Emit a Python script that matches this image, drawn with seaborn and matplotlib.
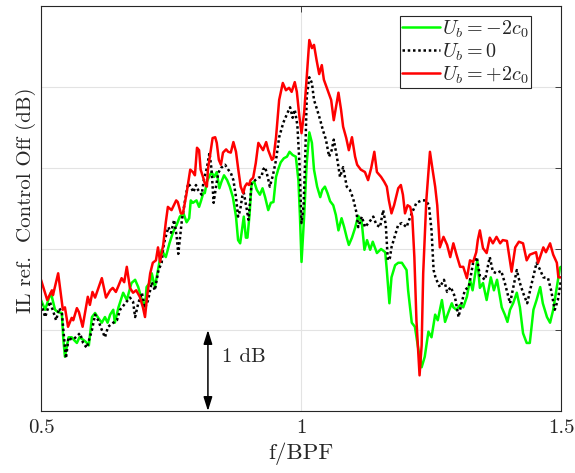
import numpy as np
import pandas as pd
import matplotlib
matplotlib.use("Agg")
import matplotlib.pyplot as plt
import seaborn as sns

# ---------------- data ----------------
f_green = [0.500, 0.508, 0.514, 0.519, 0.527, 0.533, 0.540, 0.543, 0.546, 0.553, 0.559, 0.563, 0.569, 0.574,
           0.581, 0.587, 0.592, 0.598, 0.604, 0.610, 0.617, 0.623, 0.628, 0.633, 0.639, 0.642, 0.649, 0.658,
           0.665, 0.674, 0.681, 0.687, 0.694, 0.700, 0.703, 0.710, 0.713, 0.719, 0.726, 0.732, 0.737, 0.740,
           0.747, 0.754, 0.761, 0.767, 0.774, 0.780, 0.785, 0.788, 0.792, 0.799, 0.804, 0.808, 0.812, 0.815,
           0.819, 0.823, 0.828, 0.833, 0.838, 0.843, 0.847, 0.852, 0.858, 0.863, 0.869, 0.875, 0.879, 0.883,
           0.888, 0.890, 0.894, 0.897, 0.901, 0.905, 0.910, 0.915, 0.921, 0.926, 0.931, 0.937, 0.942, 0.947,
           0.952, 0.956, 0.961, 0.967, 0.973, 0.978, 0.984, 0.990, 0.995, 0.998, 1.001, 1.006, 1.011, 1.016,
           1.021, 1.025, 1.031, 1.037, 1.041, 1.046, 1.051, 1.056, 1.062, 1.067, 1.072, 1.078, 1.083, 1.088,
           1.092, 1.098, 1.104, 1.110, 1.117, 1.122, 1.127, 1.133, 1.138, 1.146, 1.154, 1.162, 1.165, 1.170,
           1.174, 1.181, 1.187, 1.194, 1.203, 1.206, 1.213, 1.219, 1.226, 1.232, 1.238, 1.245, 1.251, 1.258,
           1.263, 1.271, 1.277, 1.283, 1.290, 1.293, 1.299, 1.306, 1.312, 1.319, 1.325, 1.330, 1.335, 1.339,
           1.344, 1.350, 1.357, 1.365, 1.371, 1.377, 1.386, 1.392, 1.397, 1.402, 1.408, 1.415, 1.421, 1.427,
           1.434, 1.440, 1.447, 1.453, 1.460, 1.465, 1.473, 1.479, 1.485, 1.492, 1.498, 1.500]
db_green = [1.37, 1.25, 1.37, 1.46, 1.25, 1.22, 1.21, 0.88, 0.67, 0.91, 0.91, 0.88, 0.84, 0.91,
            0.88, 0.85, 0.81, 1.16, 1.21, 1.15, 1.09, 1.16, 1.09, 1.19, 1.25, 1.09, 1.28, 1.46,
            1.37, 1.58, 1.62, 1.53, 1.37, 1.28, 1.53, 1.59, 1.70, 1.53, 1.78, 1.99, 1.93, 1.90,
            2.07, 2.21, 2.30, 2.40, 2.44, 2.33, 2.38, 2.60, 2.57, 2.60, 2.52, 2.60, 2.69, 2.69,
            2.83, 2.89, 2.95, 2.89, 2.95, 2.75, 2.83, 2.91, 2.85, 2.77, 2.64, 2.40, 2.11, 2.07,
            2.30, 2.40, 2.14, 2.14, 2.42, 2.81, 2.83, 2.73, 2.67, 2.75, 2.64, 2.48, 2.57, 2.58,
            2.89, 2.98, 3.07, 3.12, 3.14, 3.20, 3.16, 3.14, 2.85, 2.40, 1.84, 2.40, 3.06, 3.44,
            3.31, 2.98, 2.77, 2.64, 2.73, 2.77, 2.69, 2.59, 2.54, 2.42, 2.23, 2.38, 2.27, 2.14,
            2.05, 2.14, 2.26, 2.41, 2.32, 1.99, 2.11, 1.99, 2.09, 1.95, 2.00, 1.96, 1.74, 1.33,
            1.65, 1.80, 1.83, 1.83, 1.74, 1.49, 1.09, 1.04, 0.75, 0.54, 0.67, 0.98, 0.91, 1.19,
            1.12, 1.37, 1.10, 1.21, 1.33, 1.28, 1.25, 1.31, 1.28, 1.41, 1.62, 1.49, 1.70, 1.86,
            1.52, 1.58, 1.37, 1.65, 1.49, 1.62, 1.28, 1.19, 1.10, 1.25, 1.33, 1.46, 1.28, 0.96,
            0.84, 0.84, 1.25, 1.37, 1.53, 1.33, 1.16, 1.09, 1.25, 1.53, 1.77, 1.78]

f_zero = [0.500, 0.508, 0.514, 0.517, 0.524, 0.529, 0.535, 0.540, 0.543, 0.548, 0.553, 0.559, 0.565, 0.575,
          0.581, 0.588, 0.598, 0.604, 0.610, 0.617, 0.623, 0.629, 0.639, 0.646, 0.652, 0.662, 0.671, 0.677,
          0.681, 0.687, 0.694, 0.700, 0.706, 0.713, 0.719, 0.726, 0.732, 0.735, 0.738, 0.745, 0.750, 0.756,
          0.761, 0.764, 0.771, 0.777, 0.783, 0.788, 0.793, 0.798, 0.802, 0.809, 0.813, 0.819, 0.824, 0.828,
          0.832, 0.837, 0.841, 0.846, 0.854, 0.860, 0.865, 0.870, 0.875, 0.879, 0.883, 0.889, 0.896, 0.899,
          0.905, 0.912, 0.918, 0.924, 0.927, 0.931, 0.936, 0.940, 0.946, 0.952, 0.958, 0.966, 0.974, 0.979,
          0.984, 0.988, 0.993, 0.997, 1.001, 1.005, 1.008, 1.011, 1.016, 1.021, 1.025, 1.031, 1.037, 1.042,
          1.048, 1.054, 1.059, 1.063, 1.069, 1.075, 1.081, 1.088, 1.094, 1.100, 1.107, 1.110, 1.117, 1.123,
          1.131, 1.139, 1.145, 1.152, 1.158, 1.163, 1.167, 1.171, 1.174, 1.181, 1.187, 1.194, 1.203, 1.208,
          1.213, 1.222, 1.232, 1.240, 1.246, 1.251, 1.255, 1.259, 1.267, 1.275, 1.281, 1.288, 1.296, 1.303,
          1.308, 1.315, 1.323, 1.331, 1.338, 1.344, 1.354, 1.363, 1.369, 1.376, 1.385, 1.392, 1.402, 1.408,
          1.415, 1.421, 1.427, 1.435, 1.442, 1.453, 1.460, 1.466, 1.475, 1.481, 1.488, 1.494, 1.500]
db_zero = [1.33, 1.16, 1.28, 1.35, 1.22, 1.12, 1.27, 1.22, 1.00, 0.65, 0.91, 0.88, 0.90, 0.96,
           0.84, 0.78, 1.00, 1.19, 1.12, 1.00, 0.91, 1.04, 1.09, 1.12, 1.25, 1.33, 1.40, 1.35,
           1.16, 1.33, 1.46, 1.27, 1.37, 1.59, 1.49, 1.74, 1.83, 2.01, 2.11, 2.27, 2.20, 2.36,
           2.15, 1.94, 2.36, 2.60, 2.81, 2.77, 2.70, 2.79, 2.73, 2.67, 2.85, 3.00, 3.19, 2.98,
           2.57, 2.79, 2.94, 3.00, 3.04, 2.98, 2.94, 2.85, 2.64, 2.40, 2.48, 2.73, 2.48, 2.36,
           2.81, 2.85, 2.88, 2.89, 2.98, 3.01, 2.89, 2.77, 2.91, 3.10, 3.38, 3.56, 3.68, 3.75,
           3.62, 3.72, 3.53, 3.06, 2.32, 2.54, 3.10, 3.88, 4.12, 4.05, 3.84, 3.72, 3.59, 3.47,
           3.35, 3.14, 3.22, 3.35, 3.14, 2.89, 3.01, 2.77, 2.73, 2.63, 2.44, 2.27, 2.40, 2.27,
           2.33, 2.40, 2.30, 2.27, 2.48, 2.30, 1.86, 1.89, 2.02, 2.17, 2.30, 2.32, 2.27, 2.36,
           2.44, 2.57, 2.60, 2.60, 2.54, 2.23, 1.74, 1.64, 1.53, 1.62, 1.47, 1.53, 1.41, 1.16,
           1.31, 1.49, 1.54, 1.83, 1.90, 1.67, 1.62, 1.90, 1.72, 1.70, 1.73, 1.58, 1.33, 1.52,
           1.74, 1.58, 1.46, 1.33, 1.53, 1.83, 1.74, 1.65, 1.64, 1.49, 1.25, 1.37, 1.62]

f_red = [0.500, 0.512, 0.521, 0.523, 0.533, 0.542, 0.546, 0.552, 0.559, 0.562, 0.569, 0.573, 0.580, 0.588,
         0.590, 0.594, 0.599, 0.604, 0.617, 0.625, 0.633, 0.638, 0.644, 0.648, 0.655, 0.660, 0.665, 0.671,
         0.677, 0.683, 0.690, 0.696, 0.700, 0.704, 0.710, 0.715, 0.721, 0.725, 0.729, 0.735, 0.740, 0.744,
         0.751, 0.760, 0.763, 0.769, 0.773, 0.780, 0.787, 0.792, 0.796, 0.800, 0.804, 0.807, 0.812, 0.815,
         0.819, 0.821, 0.826, 0.830, 0.835, 0.838, 0.842, 0.846, 0.850, 0.856, 0.860, 0.865, 0.870, 0.875,
         0.879, 0.884, 0.889, 0.892, 0.896, 0.900, 0.903, 0.908, 0.913, 0.918, 0.923, 0.927, 0.933, 0.937,
         0.944, 0.947, 0.952, 0.958, 0.965, 0.971, 0.977, 0.982, 0.988, 0.992, 0.997, 1.001, 1.006, 1.011,
         1.016, 1.021, 1.025, 1.030, 1.035, 1.040, 1.044, 1.053, 1.058, 1.063, 1.072, 1.077, 1.081, 1.087,
         1.092, 1.098, 1.104, 1.108, 1.115, 1.123, 1.129, 1.135, 1.141, 1.146, 1.154, 1.160, 1.165, 1.169,
         1.174, 1.179, 1.187, 1.192, 1.196, 1.200, 1.205, 1.210, 1.214, 1.218, 1.222, 1.228, 1.232, 1.235,
         1.241, 1.248, 1.253, 1.258, 1.262, 1.267, 1.274, 1.281, 1.287, 1.293, 1.299, 1.306, 1.312, 1.319,
         1.325, 1.331, 1.337, 1.340, 1.344, 1.350, 1.357, 1.363, 1.369, 1.376, 1.383, 1.388, 1.396, 1.405,
         1.412, 1.419, 1.427, 1.434, 1.440, 1.452, 1.456, 1.466, 1.471, 1.479, 1.485, 1.492, 1.495, 1.500]
db_red = [1.62, 1.37, 1.49, 1.43, 1.70, 1.25, 1.28, 1.04, 1.15, 1.12, 1.27, 1.22, 1.04, 1.33,
          1.41, 1.31, 1.47, 1.40, 1.64, 1.40, 1.49, 1.52, 1.47, 1.53, 1.64, 1.59, 1.78, 1.52,
          1.46, 1.49, 1.41, 1.28, 1.16, 1.41, 1.70, 1.83, 1.86, 2.02, 1.84, 2.05, 2.33, 2.52,
          2.48, 2.60, 2.58, 2.44, 2.44, 2.69, 2.98, 2.95, 2.91, 3.25, 3.22, 2.98, 2.88, 2.81,
          2.77, 2.98, 3.20, 3.37, 3.38, 3.31, 3.10, 3.04, 3.19, 3.23, 3.20, 3.19, 3.32, 3.20,
          3.00, 2.77, 2.69, 2.77, 2.81, 2.79, 2.85, 2.88, 3.06, 3.31, 3.26, 3.22, 3.32, 3.22,
          3.10, 3.12, 3.38, 3.84, 4.05, 3.96, 3.99, 3.94, 4.06, 3.94, 3.63, 3.43, 3.68, 4.12,
          4.58, 4.48, 4.52, 4.33, 4.16, 4.27, 4.09, 3.93, 3.84, 3.59, 3.93, 3.72, 3.51, 3.37,
          3.22, 3.38, 3.14, 3.04, 2.98, 2.95, 2.85, 3.00, 3.20, 2.95, 2.89, 2.83, 2.77, 2.60,
          2.44, 2.54, 2.75, 2.79, 2.67, 2.44, 2.54, 2.52, 2.40, 1.90, 1.12, 0.44, 0.81, 1.70,
          2.60, 3.20, 2.98, 2.77, 2.54, 2.02, 2.15, 2.05, 1.90, 2.07, 1.93, 1.78, 1.78, 1.64,
          1.86, 1.84, 1.96, 2.11, 2.23, 2.01, 1.95, 2.14, 2.07, 2.15, 2.07, 2.11, 2.10, 1.72,
          2.02, 2.09, 2.07, 1.86, 1.93, 1.96, 1.83, 2.02, 1.96, 2.07, 1.93, 1.83, 1.65, 1.65]

labels = [r"$U_b = -2c_0$", r"$U_b = 0$", r"$U_b = +2c_0$"]
colors = ["#00ff00", "#000000", "#ff0000"]
x_ticks = [0.5, 1.0, 1.5]
x_tick_labels = ["0.5", "1", "1.5"]

# ---------------- style ----------------
sns.set_theme(style="white")
plt.rcParams["font.family"] = ["cmr10", "DejaVu Serif"]
plt.rcParams["mathtext.fontset"] = "cm"
plt.rcParams["axes.formatter.use_mathtext"] = True
plt.rcParams["axes.unicode_minus"] = False

fig = plt.figure(figsize=(5.75, 4.73), dpi=100)
ax = fig.add_axes([41 / 575, 1 - 411 / 473, 520 / 575, 405 / 473])

series = [(f_green, db_green), (f_zero, db_zero), (f_red, db_red)]
styles = ["-", (0, (1, 1.1)), "-"]
for (fx, dy), lab, col, ls in zip(series, labels, colors, styles):
    sns.lineplot(x=np.array(fx), y=np.array(dy), ax=ax, color=col, linestyle=ls,
                 linewidth=1.8, label=lab, estimator=None, sort=False)

ax.set_xlim(0.5, 1.5)
ax.set_ylim(0, 5)
ax.set_xticks(x_ticks)
ax.set_xticklabels(x_tick_labels)
ax.set_yticks([0, 1, 2, 3, 4, 5])
ax.grid(True, color="#e3e3e3", linewidth=0.8)
ax.set_axisbelow(True)
ax.tick_params(direction="in", length=4, width=0.6, top=True, right=True,
               colors="#262626", labelsize=15, labelleft=False, pad=6)
for sp in ax.spines.values():
    sp.set_color("#262626")
    sp.set_linewidth(0.8)

ax.set_xlabel("f/BPF", fontsize=16.5, color="#262626", labelpad=4)
ax.set_ylabel("IL ref.  Control Off (dB)", fontsize=15, color="#262626")
ax.yaxis.set_label_coords(-0.010, 0.521)

# 1 dB scale arrow
ax.annotate("", xy=(0.821, 1.0), xytext=(0.821, 0.0),
            arrowprops=dict(arrowstyle="<|-|>,head_length=0.7,head_width=0.22",
                            color="black", lw=1.1, shrinkA=0, shrinkB=0))
ax.text(0.848, 0.667, "1 dB", fontsize=15, va="center", ha="left", color="#262626")

leg = ax.legend(loc="upper right", bbox_to_anchor=(0.9423, 0.9753), fontsize=14.5,
                frameon=True, fancybox=False, framealpha=1, edgecolor="#262626",
                handlelength=1.9, handletextpad=0.08, borderpad=0.12, labelspacing=0.08,
                borderaxespad=0)
leg.get_frame().set_linewidth(0.8)

fig.savefig("out.png", dpi=100)
